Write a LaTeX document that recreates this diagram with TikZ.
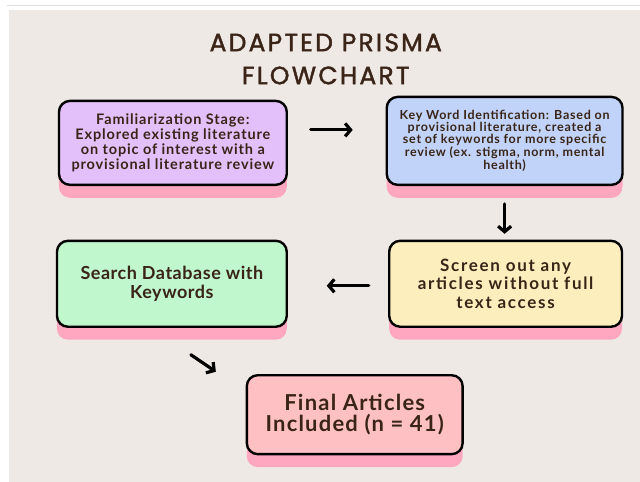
\documentclass[tikz,border=0pt]{standalone}
\usepackage{fontspec}
\setmainfont{Lato}
\newfontfamily\titlefont[LetterSpace=9,FakeBold=1.6]{Poppins}
\newfontfamily\boxfont[LetterSpace=2]{Lato}
\usetikzlibrary{shadows}
\usetikzlibrary{arrows.meta}
\definecolor{bgbeige}{HTML}{EEE9E5}
\definecolor{rulegrey}{HTML}{E4DEE4}
\definecolor{inkbrown}{HTML}{3A2417}
\definecolor{lilac}{HTML}{E3C0FA}
\definecolor{skyblue}{HTML}{C1D3F8}
\definecolor{mintgreen}{HTML}{C0F7CD}
\definecolor{butter}{HTML}{FDEEBE}
\definecolor{rosebox}{HTML}{FFC0C4}
\definecolor{shadowpink}{HTML}{FFA7C1}
\tikzset{>={Straight Barb[length=5.5pt,width=13pt]}}
\tikzset{
  stage/.style={draw=black, line width=2.4pt, rounded corners=11pt, align=center,
    inner sep=0pt, text=inkbrown,
    drop shadow={shadow xshift=0pt, shadow yshift=-13pt, fill=shadowpink, opacity=1}},
  flow/.style={->, line width=3.2pt, line cap=round, draw=black}
}

\begin{document}
\begin{tikzpicture}[x=1pt, y=-1pt]
      % page and backdrop
      \fill[white] (0,0) rectangle (640,482);
      \draw[rulegrey, line width=1pt] (7,6) -- (640,6);
      \fill[bgbeige] (9,10) rectangle (640,482);
      \useasboundingbox (0,0) rectangle (640,482);

      \node (title) at (326,59) [text=inkbrown, align=center,
        font=\titlefont\fontsize{25}{33}\selectfont] {ADAPTED PRISMA\\FLOWCHART};

	  % stages
	  \node (fam) at (173,143) [stage, fill=lilac, minimum width=228pt, minimum height=84pt,
	    font=\addfontfeatures{LetterSpace=6}\bfseries\fontsize{14.5}{15}\selectfont]
	    {Familiarization Stage:\\Explored existing literature\\on topic of interest with a\\provisional literature review};
	  \node (kw) at (505,141) [stage, fill=skyblue, minimum width=236pt, minimum height=88pt,
	    font=\addfontfeatures{LetterSpace=6}\bfseries\fontsize{12.5}{11.8}\selectfont]
	    {Key Word Identification: Based on\\provisional literature, created a\\set of keywords for more specific\\review (ex. stigma, norm, mental\\health)};
	  \node (screen) at (506,284) [stage, fill=butter, minimum width=233pt, minimum height=86pt,
	    font=\addfontfeatures{LetterSpace=10}\bfseries\fontsize{17}{18.5}\selectfont]
	    {Screen out any\\articles without full\\text access};
	  \node (search) at (172,284) [stage, fill=mintgreen, minimum width=230pt, minimum height=86pt,
	    font=\addfontfeatures{LetterSpace=3}\bfseries\fontsize{18}{19}\selectfont]
	    {Search Database with\\Keywords};
	  \node (final) at (355,415) [stage, fill=rosebox, minimum width=216pt, minimum height=79pt,
	    font=\addfontfeatures{LetterSpace=5.5}\bfseries\fontsize{22}{21}\selectfont]
	    {Final Articles\\Included (n = 41)};

	  % arrows
	  \coordinate (r1) at (311,130);
	  \coordinate (r2) at (353,130);
	  \coordinate (d1) at (505,204);
	  \coordinate (d2) at (505,234);
	  \coordinate (l1) at (369,286);
	  \coordinate (l2) at (327,286);
	  \coordinate (s1) at (191,355);
	  \coordinate (s2) at (216,372);
	  \draw[flow] (r1) -- (r2);
	  \draw[flow] (d1) -- (d2);
	  \draw[flow] (l1) -- (l2);
	  \draw[flow] (s1) -- (s2);
\end{tikzpicture}
\end{document}
